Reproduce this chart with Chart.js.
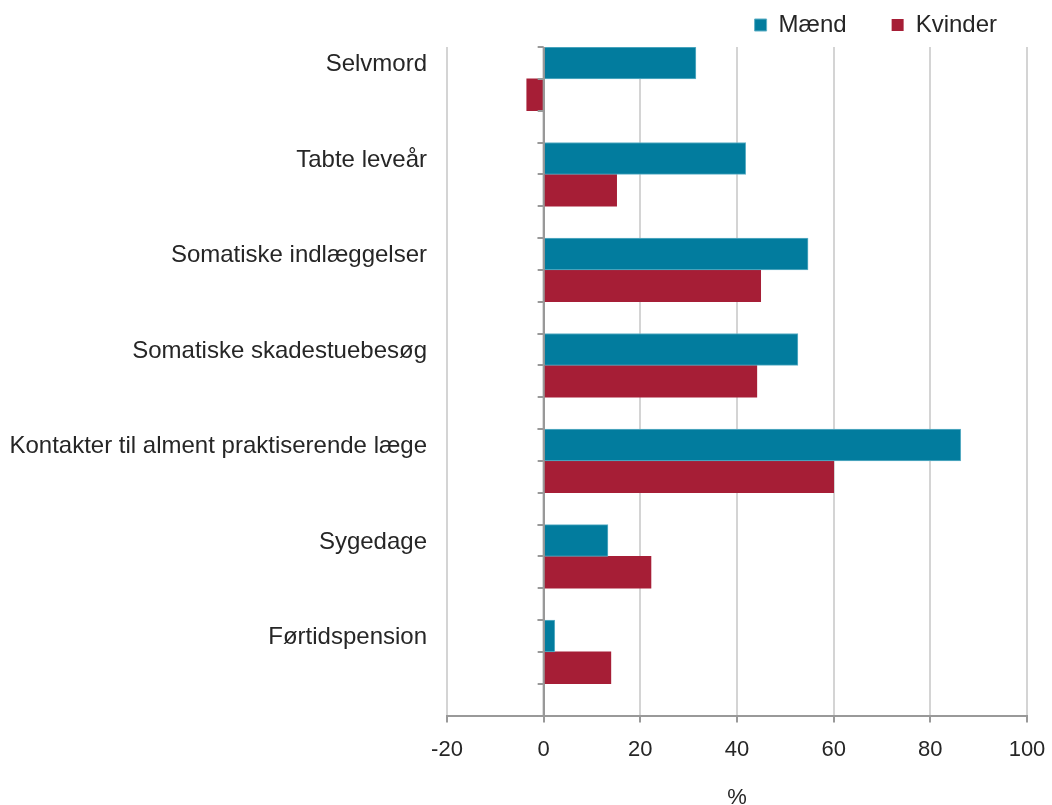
<!DOCTYPE html>
<html>
<head>
<meta charset="utf-8">
<script src="https://cdn.jsdelivr.net/npm/chart.js@4"></script>
<style>
  html, body { margin: 0; padding: 0; background: #fff; }
  #wrap { width: 1052px; height: 805px; }
</style>
</head>
<body>
<div id="wrap"><canvas id="chart"></canvas></div>
<script>
var categories = [
  'Selvmord',
  'Tabte leveår',
  'Somatiske indlæggelser',
  'Somatiske skadestuebesøg',
  'Kontakter til alment praktiserende læge',
  'Sygedage',
  'Førtidspension'
];
var maend = [31.5, 41.8, 54.7, 52.6, 86.3, 13.3, 2.3];
var kvinder = [-3.5, 15.1, 44.9, 44.1, 60.0, 22.2, 13.9];
var spacer = [null, null, null, null, null, null, null];
var xTicks = [-20, 0, 20, 40, 60, 80, 100];

var FONT = "'Liberation Sans', Arial, sans-serif";
var TEXT = '#262626';

// zero line + small tick marks at each bar edge, drawn over the bars
var zeroAxis = {
  id: 'zeroAxis',
  afterLayout: function(chart) {
    // push the legend a bit further right than the plot padding allows
    chart.legend.right += 15;
  },
  afterDatasetsDraw: function(chart) {
    var ctx = chart.ctx;
    var x = chart.scales.x.getPixelForValue(0);
    var y = chart.scales.y;
    var area = chart.chartArea;
    var step = (y.getPixelForValue(1) - y.getPixelForValue(0)) / 3;
    ctx.save();
    ctx.strokeStyle = '#999';
    ctx.lineWidth = 2;
    ctx.beginPath();
    ctx.moveTo(x, area.top);
    ctx.lineTo(x, area.bottom);
    ctx.stroke();
    for (var i = 0; i < categories.length; i++) {
      var c = y.getPixelForValue(i);
      for (var k = -1.5; k <= 1.5; k++) {
        var ty = Math.round(c + k * step);
        ctx.beginPath();
        ctx.moveTo(x - 6, ty);
        ctx.lineTo(x, ty);
        ctx.stroke();
      }
    }
    ctx.restore();
  }
};

new Chart(document.getElementById('chart'), {
  type: 'bar',
  data: {
    labels: categories,
    datasets: [
      { label: 'Mænd', data: maend, backgroundColor: '#027C9E', borderColor: '#5fb0c6', borderWidth: 1, borderSkipped: 'start' },
      { label: 'Kvinder', data: kvinder, backgroundColor: '#A61E36', borderWidth: 0 },
      { label: '', data: spacer, backgroundColor: 'rgba(0,0,0,0)' }
    ]
  },
  options: {
    indexAxis: 'y',
    responsive: true,
    maintainAspectRatio: false,
    animation: false,
    categoryPercentage: 1,
    barPercentage: 1,
    layout: { padding: { left: 0, right: 25, top: -32, bottom: -4 } },
    plugins: {
      tooltip: { enabled: false },
      legend: {
        position: 'top',
        align: 'end',
        labels: {
          filter: function(item) { return item.text !== ''; },
          boxWidth: 12,
          boxHeight: 12,
          padding: 45,
          color: TEXT,
          font: { family: FONT, size: 24 }
        }
      }
    },
    scales: {
      x: {
        min: -20,
        max: 100,
        afterBuildTicks: function(scale) {
          scale.ticks = xTicks.map(function(v) { return { value: v }; });
        },
        afterFit: function(scale) { scale.paddingRight = 0; },
        grid: {
          color: function(ctx) { return ctx.tick && ctx.tick.value === 0 ? '#999' : '#d4d4d4'; },
          lineWidth: 2,
          tickColor: '#999',
          tickLength: 7,
          drawTicks: true
        },
        border: { display: true, color: '#999', width: 2 },
        ticks: {
          color: TEXT,
          padding: 14,
          font: { family: FONT, size: 22 }
        },
        title: {
          display: true,
          text: '%',
          color: TEXT,
          padding: { top: 10, bottom: 0 },
          font: { family: FONT, size: 22, lineHeight: 1 }
        }
      },
      y: {
        grid: { display: false, drawTicks: false },
        border: { display: false },
        afterFit: function(scale) { scale.width = 447; },
        ticks: {
          color: TEXT,
          padding: 20,
          labelOffset: -30,
          font: { family: FONT, size: 24 }
        }
      }
    }
  },
  plugins: [zeroAxis]
});
</script>
</body>
</html>
